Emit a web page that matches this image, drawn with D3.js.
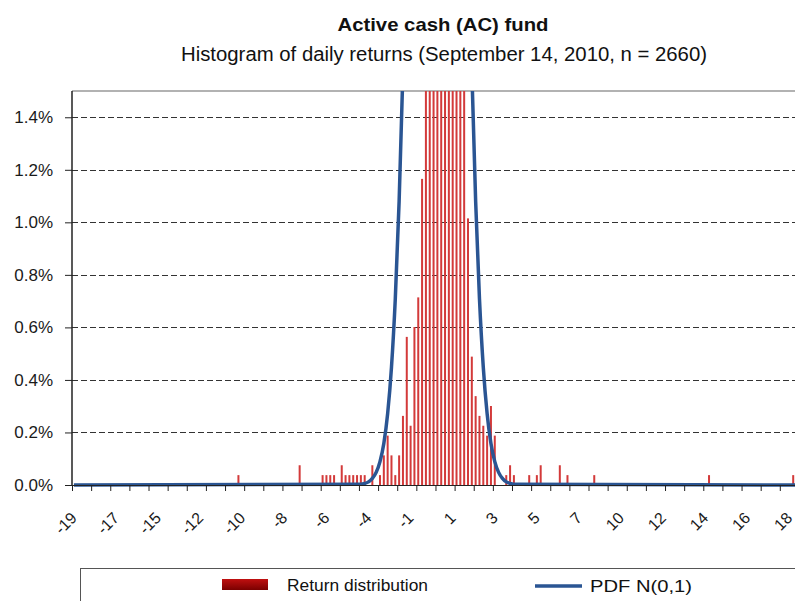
<!DOCTYPE html>
<html>
<head>
<meta charset="utf-8">
<script src="https://d3js.org/d3.v7.min.js"></script>
<style>
  body { margin: 0; background: #fff; }
  svg { display: block; font-family: "Liberation Sans", Arial, sans-serif; }
  .grid line { stroke: #333; stroke-dasharray: 6 3; }
  .yaxis text { font-size: 17px; fill: #1a1a1a; }
  .xlab { font-size: 16px; fill: #1a1a1a; }
</style>
</head>
<body>
<svg id="chart" width="795" height="601"></svg>
<script>
// observations and bins (returns in standard deviations)
const nObs = 2660;
const binStart = -19, binStep = 0.2, nBins = 190;
const tickEvery = 5, labelEvery = 11;
const tickLabels = ["-19", "-17", "-15", "-12", "-10", "-8", "-6", "-4", "-1",
  "1", "3", "5", "7", "10", "12", "14", "16", "18"];
const yTicks = [0, 0.002, 0.004, 0.006, 0.008, 0.010, 0.012, 0.014];

// histogram: bin value and number of days in it
const returnBins = [-10.4, -7.2, -6.0, -5.8, -5.6, -5.4, -5.0, -4.8, -4.6, -4.4, -4.2, -4.0, -3.8,
  -3.4, -3.0, -2.8, -2.6, -2.4, -2.2, -2.0, -1.8, -1.6, -1.4, -1.2, -1.0, -0.8,
  -0.6, -0.4, -0.2, 0.0, 0.2, 0.4, 0.6, 0.8, 1.0, 1.2, 1.4,
  1.6, 1.8, 2.0, 2.2, 2.4, 2.6, 2.8, 3.0,
  3.6, 3.8, 4.0, 4.8, 5.2, 5.4, 6.4, 6.8, 8.2, 14.2, 18.6];
const returnObs = [1, 2, 1, 1, 1, 1, 2, 1, 1, 1, 1, 1, 1,
  2, 1, 3, 5, 3, 1, 3, 7, 15, 6, 16, 19, 31,
  120, 170, 230, 270, 300, 310, 290, 260, 210, 150, 129,
  27, 13, 9, 7, 6, 5, 8, 5,
  1, 2, 1, 1, 1, 2, 2, 1, 1, 1, 1];

// PDF N(0,1) per bin, share of days
const pdfZ = [-19, -4.0, -3.8, -3.6, -3.4, -3.2, -3.0, -2.8, -2.6, -2.4, -2.2, -2.0, -1.8, -1.6, -1.4, -1.2, -1.0,
  -0.8, -0.6, -0.4, -0.2, 0.0, 0.2, 0.4, 0.6, 0.8, 1.0, 1.2, 1.4, 1.6, 1.8, 2.0, 2.2, 2.4,
  2.6, 2.8, 3.0, 3.2, 3.4, 3.6, 3.8, 4.0, 18.8];
const pdfVal = [0, 0.00003, 0.00006, 0.00012, 0.00025, 0.00048, 0.00089, 0.00158, 0.00272, 0.00448, 0.00709,
  0.01080, 0.01579, 0.02218, 0.02995, 0.03884, 0.04839, 0.05794, 0.06664, 0.07365, 0.07821, 0.07979,
  0.07821, 0.07365, 0.06664, 0.05794, 0.04839, 0.03884, 0.02995, 0.02218, 0.01579, 0.01080, 0.00709,
  0.00448, 0.00272, 0.00158, 0.00089, 0.00048, 0.00025, 0.00012, 0.00006, 0.00003, 0];

const svg = d3.select("#chart");
const plotLeft = 72, plotTop = 91, plotBottom = 485, bw = 3.826;

const x = d3.scaleLinear().domain([0, nBins]).range([plotLeft, plotLeft + nBins * bw]);
const y = d3.scaleLinear().domain([0, 0.015]).range([plotBottom, plotTop]);
const binIndex = z => Math.round((z - binStart) / binStep);
const cx = z => x(binIndex(z) + 0.5);

const defs = svg.append("defs");
defs.append("clipPath").attr("id", "plot")
  .append("rect").attr("x", plotLeft).attr("y", plotTop)
  .attr("width", x.range()[1] - plotLeft).attr("height", plotBottom - plotTop + 4);

const grad = defs.append("linearGradient").attr("id", "legRed")
  .attr("x1", 0).attr("y1", 0).attr("x2", 0).attr("y2", 1);
grad.append("stop").attr("offset", "0%").attr("stop-color", "#c01010");
grad.append("stop").attr("offset", "100%").attr("stop-color", "#7a0000");

// titles
svg.append("text").attr("x", 443).attr("y", 31).attr("text-anchor", "middle")
  .attr("font-size", 19).attr("font-weight", "bold").attr("fill", "#111")
  .attr("textLength", 211).attr("lengthAdjust", "spacingAndGlyphs")
  .text("Active cash (AC) fund");
svg.append("text").attr("x", 444).attr("y", 61).attr("text-anchor", "middle")
  .attr("font-size", 20).attr("fill", "#111")
  .attr("textLength", 526).attr("lengthAdjust", "spacingAndGlyphs")
  .text("Histogram of daily returns (September 14, 2010, n = 2660)");

// plot border top
svg.append("line").attr("x1", plotLeft).attr("x2", 800).attr("y1", plotTop).attr("y2", plotTop)
  .attr("stroke", "#999").attr("stroke-width", 1.5);

// gridlines
svg.append("g").attr("class", "grid")
  .selectAll("line").data(yTicks.slice(1)).join("line")
  .attr("x1", plotLeft).attr("x2", 800)
  .attr("y1", d => Math.round(y(d)) + 0.5).attr("y2", d => Math.round(y(d)) + 0.5);

// bars
const plot = svg.append("g").attr("clip-path", "url(#plot)");
plot.selectAll("rect.bar").data(returnBins).join("rect").attr("class", "bar")
  .attr("x", d => cx(d) - 1)
  .attr("width", 2)
  .attr("y", (d, i) => y(returnObs[i] / nObs))
  .attr("height", (d, i) => plotBottom - y(returnObs[i] / nObs))
  .attr("fill", "#d33a3a");

// y axis
svg.append("g").attr("class", "yaxis").attr("transform", `translate(${plotLeft},0)`)
  .call(d3.axisLeft(y).tickValues(yTicks).tickFormat(d3.format(".1%")).tickSize(7).tickPadding(12).tickSizeOuter(0))
  .call(g => g.select(".domain").attr("stroke", "#222").attr("stroke-width", 1.5)
    .attr("d", `M0,${plotTop}V${plotBottom}`))
  .call(g => g.selectAll(".tick line").attr("stroke", "#222"));

// x axis
svg.append("g").attr("transform", `translate(0,${plotBottom})`)
  .call(d3.axisBottom(x).tickValues(d3.range(0, nBins, tickEvery)).tickFormat("").tickSize(6).tickSizeOuter(0))
  .call(g => g.select(".domain").attr("stroke", "#222"))
  .call(g => g.selectAll(".tick line").attr("stroke", "#222"));

svg.append("g").selectAll("text").data(tickLabels).join("text")
  .attr("class", "xlab")
  .attr("text-anchor", "end")
  .attr("transform", (d, i) => `translate(${x(i * labelEvery + 0.5) + 4},519) rotate(-45)`)
  .text(d => d);

// PDF line
const line = d3.line().x(d => cx(d[0])).y(d => y(d[1])).curve(d3.curveMonotoneX);
plot.append("path").datum(pdfZ.map((z, i) => [z, pdfVal[i]]))
  .attr("d", line).attr("fill", "none")
  .attr("stroke", "#2a5593").attr("stroke-width", 3.5);

// legend
svg.append("rect").attr("x", 80.5).attr("y", 568.5).attr("width", 730).attr("height", 60)
  .attr("fill", "none").attr("stroke", "#555");
svg.append("rect").attr("x", 222).attr("y", 579).attr("width", 46).attr("height", 11)
  .attr("fill", "url(#legRed)");
svg.append("text").attr("x", 287).attr("y", 591).attr("font-size", 17).attr("fill", "#111")
  .attr("textLength", 141).attr("lengthAdjust", "spacingAndGlyphs")
  .text("Return distribution");
svg.append("line").attr("x1", 535).attr("x2", 582).attr("y1", 586).attr("y2", 586)
  .attr("stroke", "#2a5593").attr("stroke-width", 3.5);
svg.append("text").attr("x", 590).attr("y", 592).attr("font-size", 17).attr("fill", "#111")
  .attr("textLength", 102).attr("lengthAdjust", "spacingAndGlyphs")
  .text("PDF N(0,1)");
</script>
</body>
</html>
